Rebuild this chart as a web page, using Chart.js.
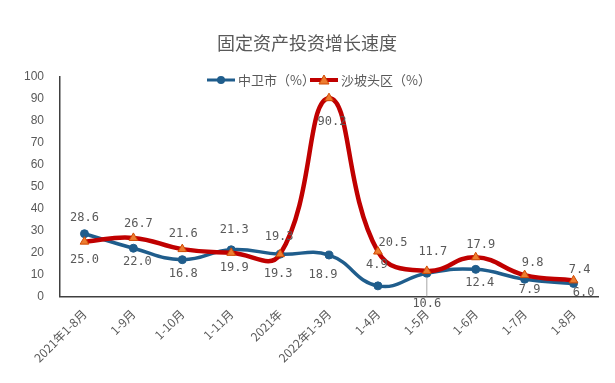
<!DOCTYPE html>
<html>
<head>
<meta charset="utf-8">
<script src="https://cdn.jsdelivr.net/npm/chart.js@4.4.0/dist/chart.umd.min.js"></script>
<style>
  html, body { margin: 0; padding: 0; background: #fff; }
  #wrap { width: 615px; height: 383px; }
</style>
</head>
<body>
<div id="wrap"><canvas id="myChart"></canvas></div>
<script>
// data
const months = ['2021年1-8月', '1-9月', '1-10月', '1-11月', '2021年', '2022年1-3月', '1-4月', '1-5月', '1-6月', '1-7月', '1-8月'];
const zhongwei = [28.6, 22.0, 16.8, 21.3, 19.3, 18.9, 4.9, 10.6, 12.4, 7.9, 6.0];
const shapotou = [25.0, 26.7, 21.6, 19.9, 19.3, 90.2, 20.5, 11.7, 17.9, 9.8, 7.4];
const yTicks = [0, 10, 20, 30, 40, 50, 60, 70, 80, 90, 100];

// label offsets (px from the point)
const zw_dx = [0, 4, 1, 3, -2, -6, -1, 0, 4, 5, 10];
const zw_dy = [-16, 14, 14, -20, 20, 20, -21, 31, 14, 11, 9];
const sp_dx = [0, 5, 1, 3, -1, 3, 15, 6, 5, 8, 6];
const sp_dy = [18, -14, -15, 15, -17, 24, -9, -19, -12, -12, -10];

const blue = '#1f5d8c';
const red = '#c00000';
const grey = '#595959';

const labelPlugin = {
    id: 'pointLabels',
    afterDatasetsDraw(chart) {
        let ctx = chart.ctx;
        ctx.save();
        ctx.font = '12px "DejaVu Sans Mono"';
        ctx.fillStyle = grey;
        ctx.textAlign = 'center';
        ctx.textBaseline = 'middle';
        let offs = [[zw_dx, zw_dy], [sp_dx, sp_dy]];
        chart.data.datasets.forEach((ds, i) => {
            let meta = chart.getDatasetMeta(i);
            meta.data.forEach((pt, j) => {
                let x = pt.x + offs[i][0][j];
                let y = pt.y + offs[i][1][j];
                // leader line for the far label
                if (Math.abs(offs[i][1][j]) > 25) {
                    ctx.strokeStyle = '#a6a6a6';
                    ctx.lineWidth = 1;
                    ctx.beginPath();
                    ctx.moveTo(pt.x, pt.y + 4);
                    ctx.lineTo(pt.x, y - 8);
                    ctx.stroke();
                }
                ctx.fillText(ds.data[j].toFixed(1), x, y);
            });
        });
        ctx.restore();
    }
};

const legendPlugin = {
    id: 'lineLegend',
    afterDraw(chart) {
        let ctx = chart.ctx;
        ctx.save();
        let y = 80;
        // 中卫市
        ctx.strokeStyle = blue;
        ctx.lineWidth = 3;
        ctx.beginPath(); ctx.moveTo(207, y); ctx.lineTo(235, y); ctx.stroke();
        ctx.fillStyle = blue;
        ctx.beginPath(); ctx.arc(221, y, 4, 0, Math.PI * 2); ctx.fill();
        // 沙坡头区
        ctx.strokeStyle = red;
        ctx.lineWidth = 4;
        ctx.beginPath(); ctx.moveTo(310, y); ctx.lineTo(338, y); ctx.stroke();
        ctx.fillStyle = '#ed7d31';
        ctx.strokeStyle = '#d04a02';
        ctx.lineWidth = 1;
        ctx.beginPath(); ctx.moveTo(324, y - 5); ctx.lineTo(329, y + 4); ctx.lineTo(319, y + 4); ctx.closePath();
        ctx.fill(); ctx.stroke();
        ctx.font = '13px "Noto Sans CJK SC"';
        ctx.fillStyle = grey;
        ctx.textBaseline = 'middle';
        ctx.fillText('中卫市（%）', 238, y);
        ctx.fillText('沙坡头区（%）', 341, y);
        ctx.restore();
    }
};

var ctx = document.getElementById('myChart');
chart = new Chart(ctx, {
    type: 'line',
    data: {
        labels: months,
        datasets: [
            {
                label: '中卫市（%）',
                data: zhongwei,
                borderColor: blue,
                backgroundColor: blue,
                borderWidth: 3.5,
                pointStyle: 'circle',
                pointRadius: 4,
                pointBorderWidth: 1,
                tension: 0.45,
                order: 1
            },
            {
                label: '沙坡头区（%）',
                data: shapotou,
                borderColor: red,
                backgroundColor: '#ed7d31',
                pointBorderColor: '#d04a02',
                borderWidth: 4.5,
                pointStyle: 'triangle',
                pointRadius: 5,
                pointBorderWidth: 1,
                tension: 0.45,
                order: 0
            }
        ]
    },
    options: {
        responsive: true,
        maintainAspectRatio: false,
        animation: false,
        layout: { padding: { left: 16, right: 17, top: 0, bottom: 16 } },
        scales: {
            x: {
                offset: true,
                grid: { display: false, offset: true },
                border: { display: true, color: '#404040', width: 1.5 },
                ticks: {
                    color: grey,
                    font: { size: 12, family: '"Noto Sans CJK SC"' },
                    minRotation: 45,
                    maxRotation: 45,
                    autoSkip: false,
                    padding: 2
                }
            },
            y: {
                min: 0,
                max: 100,
                afterBuildTicks: (axis) => { axis.ticks = yTicks.map(v => ({ value: v })); },
                grid: { display: false },
                border: { display: true, color: '#404040', width: 1.5 },
                ticks: {
                    color: grey,
                    font: { size: 12, family: '"Liberation Sans"' },
                    padding: 8
                }
            }
        },
        plugins: {
            title: {
                display: true,
                text: '固定资产投资增长速度',
                color: grey,
                font: { size: 18, family: '"Noto Sans CJK SC"', weight: 'normal' },
                padding: { top: 32, bottom: 23 }
            },
            legend: { display: false },
            tooltip: { enabled: false }
        }
    },
    plugins: [labelPlugin, legendPlugin]
});
</script>
</body>
</html>
